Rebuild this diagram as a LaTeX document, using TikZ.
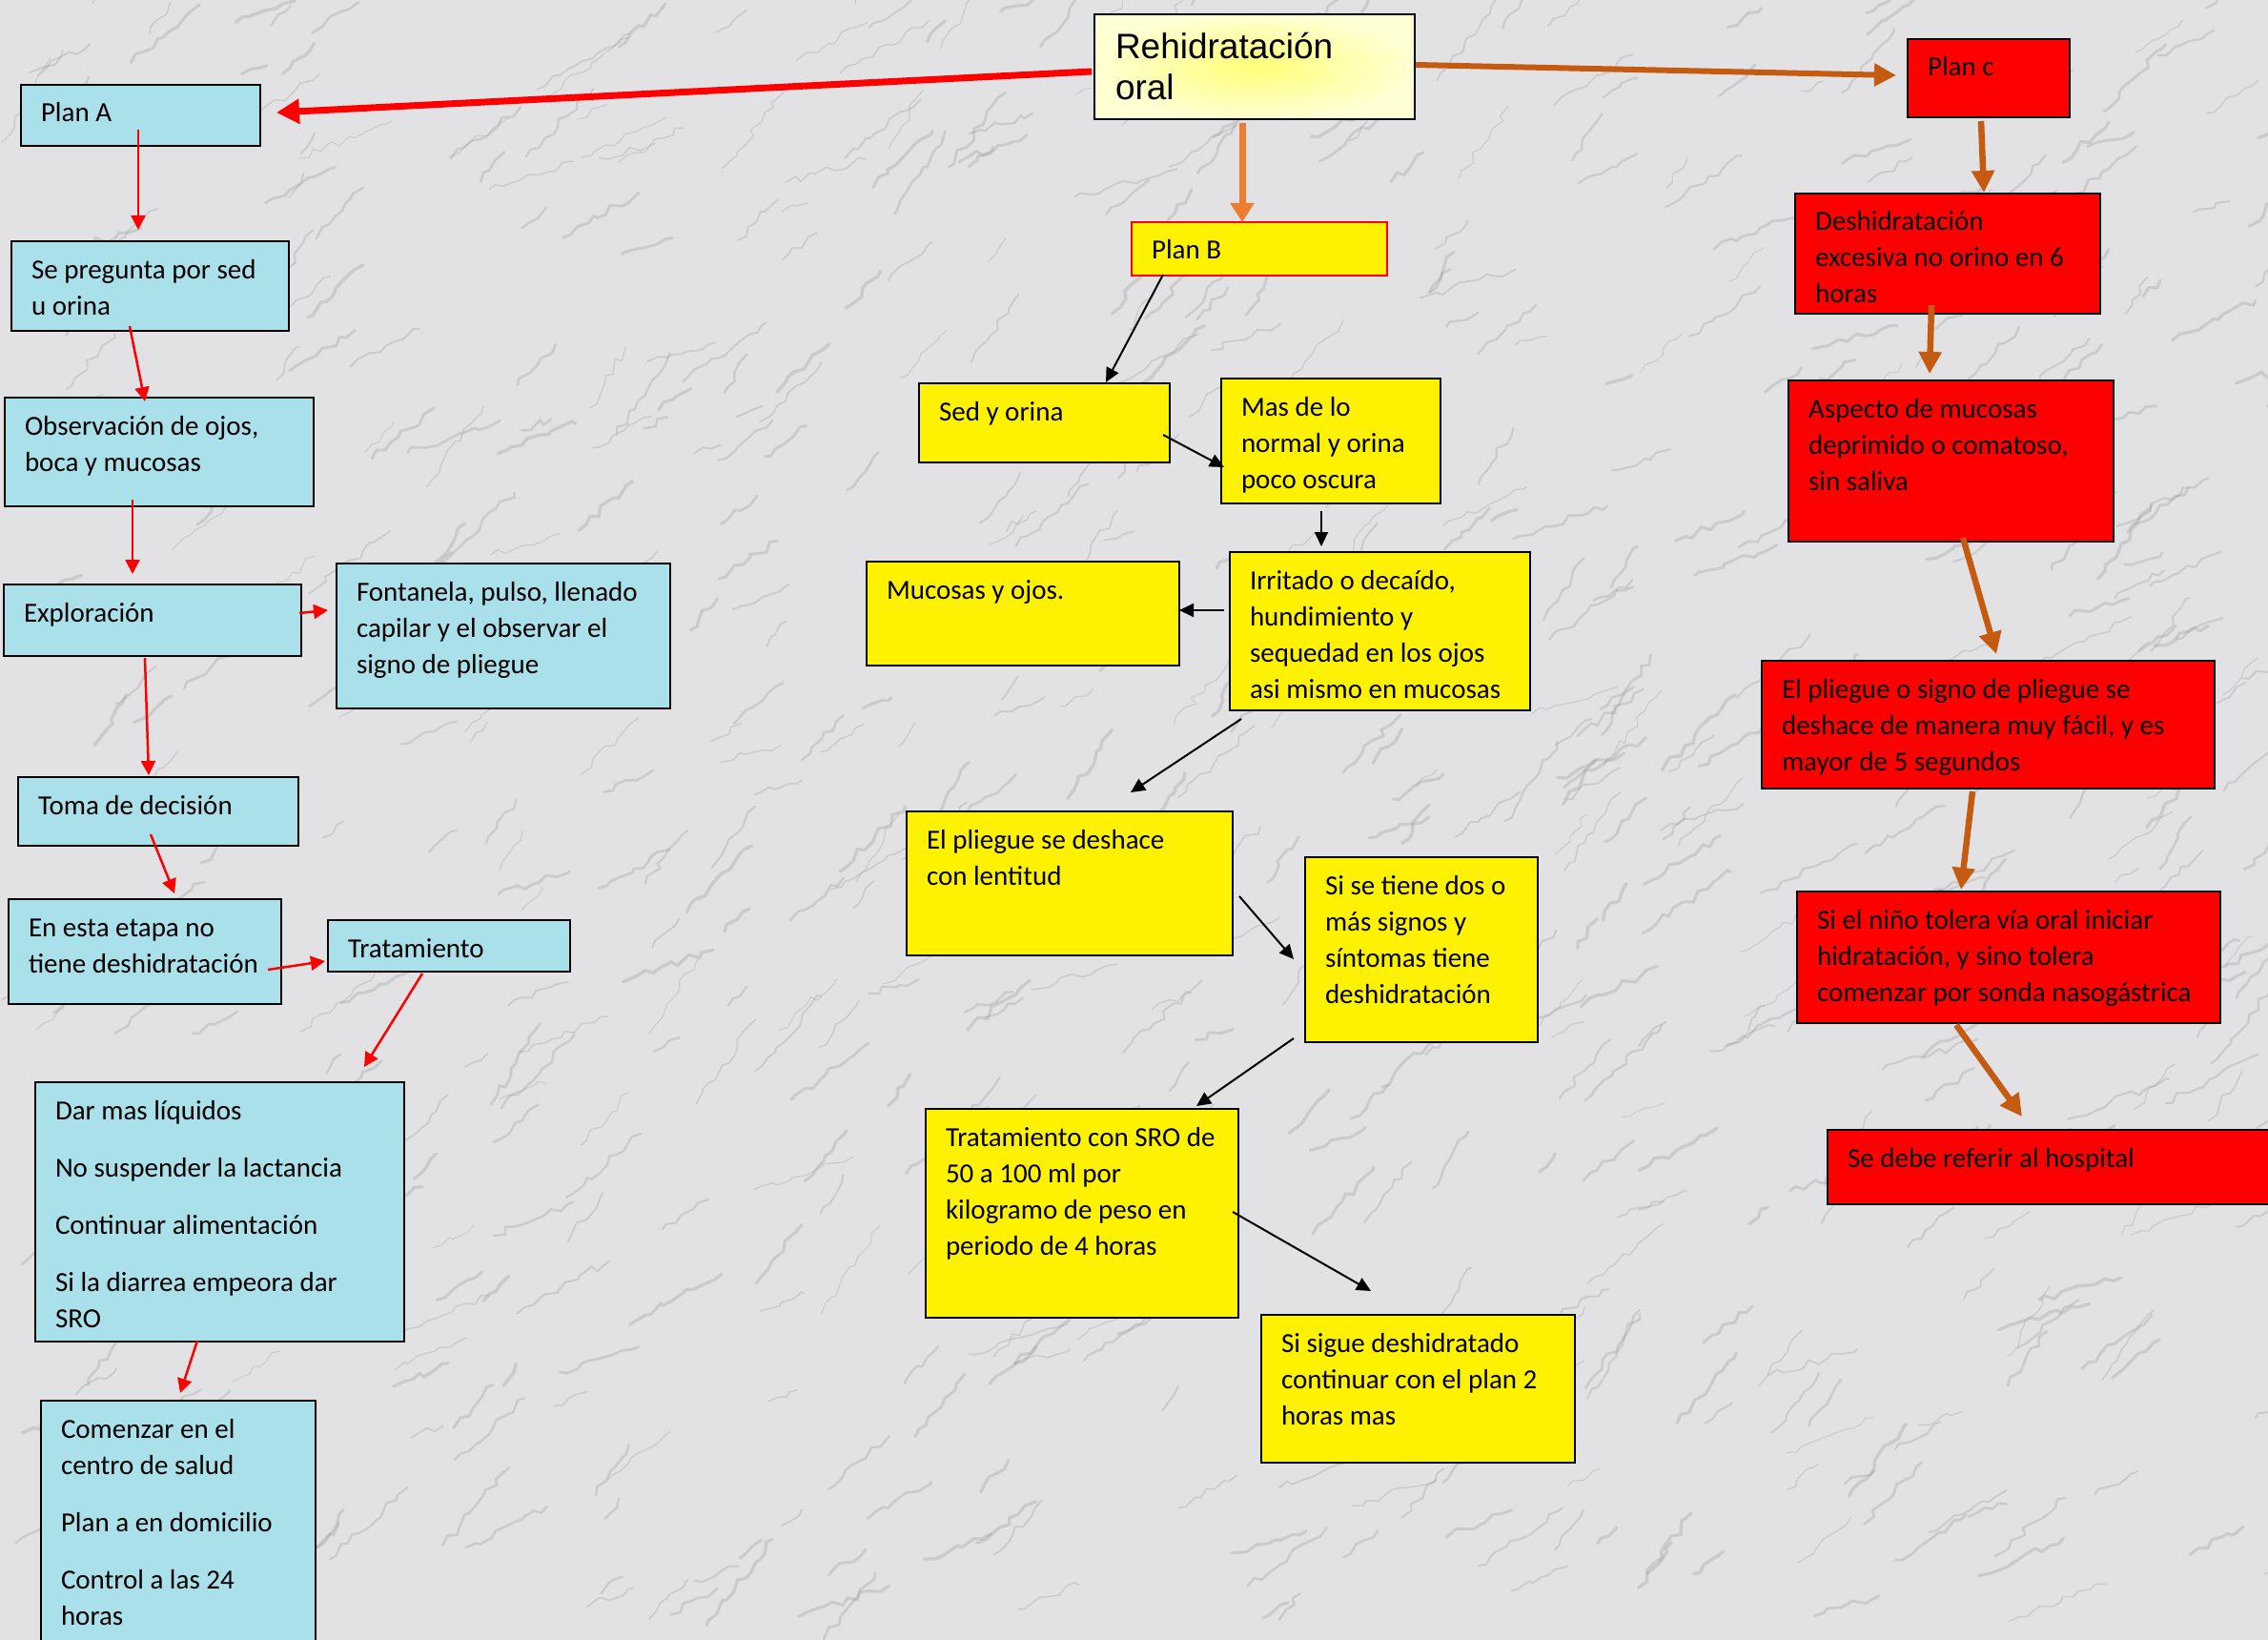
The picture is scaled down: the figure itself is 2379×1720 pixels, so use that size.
\documentclass[tikz,border=0pt]{standalone}
\usepackage{fontspec}
\setmainfont{Carlito}
\newfontfamily\arialf{Liberation Sans}
\usetikzlibrary{arrows.meta,calc,decorations.pathmorphing}
\definecolor{bgmarble}{RGB}{226,226,229}
\definecolor{veingray}{RGB}{150,150,156}
\definecolor{cyanfill}{RGB}{170,224,234}
\definecolor{brownln}{RGB}{197,90,17}
\definecolor{orangeln}{RGB}{237,125,49}
\definecolor{paleyel}{RGB}{255,255,212}
\definecolor{glowyel}{RGB}{255,255,120}
\newcommand{\mybox}[7]{\node[#6,anchor=north west,inner sep=0pt] (#1) at (#2,-#3)
  {\parbox[t][#5pt][t]{#4pt}{\fontsize{29}{38}\selectfont\leftskip=21pt\relax\rule{0pt}{39pt}#7}};}
\tikzset{
  cyanbox/.style={draw=black,line width=2pt,fill=cyanfill},
  yelbox/.style={draw=black,line width=2pt,fill=yellow},
  redbox/.style={draw=black,line width=2pt,fill=red},
  planbbox/.style={draw=red,line width=2pt,fill=yellow},
  mainbox/.style={draw=black,line width=2pt,inner color=glowyel,outer color=paleyel},
  redln/.style={red,line width=2.5pt,-{Triangle[length=15pt,width=15pt]}},
  blkln/.style={black,line width=2pt,-{Triangle[length=15pt,width=14pt]}},
  brnln/.style={brownln,line width=6.5pt,-{Triangle[length=23pt,width=23pt]}},
  redbig/.style={red,line width=7pt,-{Triangle[length=24pt,width=25pt]}},
  orgbig/.style={orangeln,line width=7pt,-{Triangle[length=20pt,width=24pt]}},
  brnbig/.style={brownln,line width=6pt,-{Triangle[length=23pt,width=23pt]}},
  vein/.style={veingray,opacity=0.3,line cap=round,
    decorate,decoration={random steps,segment length=9pt,amplitude=4pt}}
}
\begin{document}
\begin{tikzpicture}[x=1pt,y=1pt]
\fill[bgmarble] (0,0) rectangle (2379,-1720);
\useasboundingbox (0,0) rectangle (2379,-1720);

% marble texture
\pgfmathsetseed{7}
\foreach \i in {1,...,700}{
  \pgfmathsetmacro\xa{rnd*2379}
  \pgfmathsetmacro\ya{-rnd*1720}
  \pgfmathsetmacro\ang{15+rnd*45}
  \pgfmathsetmacro\len{25+rnd*90}
  \pgfmathsetmacro\lw{1+rnd*2.5}
  \draw[vein,line width=\lw pt] (\xa,\ya) -- ++(\ang:\len);
}

% main node
\node[mainbox,anchor=north west,inner sep=0pt] (rehid) at (1147,-14)
  {\parbox[t][110pt][t]{336pt}{\arialf\fontsize{37}{43}\selectfont\leftskip=22pt\relax\rule{0pt}{47pt}Rehidratación\\oral}};

% Plan A column
\mybox{planA}{21}{88}{251}{64}{cyanbox}{Plan A}
\mybox{sep}{11}{252}{291}{94}{cyanbox}{Se pregunta por sed\\u orina}
\mybox{obs}{4}{416}{324}{114}{cyanbox}{Observación de ojos,\\boca y mucosas}
\mybox{explor}{3}{612}{312}{75}{cyanbox}{Exploración}
\mybox{fontanela}{352}{590}{350}{152}{cyanbox}{Fontanela, pulso, llenado\\capilar y el observar el\\signo de pliegue}
\mybox{toma}{18}{814}{294}{72}{cyanbox}{Toma de decisión}
\mybox{enesta}{8}{942}{286}{110}{cyanbox}{En esta etapa no\\tiene deshidratación}
\mybox{tratam}{343}{964}{254}{54}{cyanbox}{Tratamiento}
\mybox{dar}{36}{1134}{387}{272}{cyanbox}{Dar mas líquidos\\[22pt]No suspender la lactancia\\[22pt]Continuar alimentación\\[22pt]Si la diarrea empeora dar\\SRO}
\mybox{comenzar}{42}{1468}{288}{256}{cyanbox}{Comenzar en el\\centro de salud\\[22pt]Plan a en domicilio\\[22pt]Control a las 24\\horas}

% Plan B column
\mybox{planB}{1186}{232}{268}{56}{planbbox}{Plan B}
\mybox{sed}{963}{401}{263}{83}{yelbox}{Sed y orina}
\mybox{mas}{1280}{396}{230}{131}{yelbox}{Mas de lo\\normal y orina\\poco oscura}
\mybox{mucosas}{908}{588}{328}{109}{yelbox}{Mucosas y ojos.}
\mybox{irritado}{1289}{578}{315}{166}{yelbox}{Irritado o decaído,\\hundimiento y\\sequedad en los ojos\\asi mismo en mucosas}
\mybox{elpliegue}{950}{850}{342}{151}{yelbox}{El pliegue se deshace\\con lentitud}
\mybox{sisetiene}{1368}{898}{244}{194}{yelbox}{Si se tiene dos o\\más signos y\\síntomas tiene\\deshidratación}
\mybox{tratsro}{970}{1162}{328}{219}{yelbox}{Tratamiento con SRO de\\50 a 100 ml por\\kilogramo de peso en\\periodo de 4 horas}
\mybox{sisigue}{1322}{1378}{329}{155}{yelbox}{Si sigue deshidratado\\continuar con el plan 2\\horas mas}

% Plan C column
\mybox{planC}{2000}{40}{170}{82}{redbox}{Plan c}
\mybox{deshid}{1882}{202}{320}{126}{redbox}{Deshidratación\\excesiva no orino en 6\\horas}
\mybox{aspecto}{1875}{398}{341}{169}{redbox}{Aspecto de mucosas\\deprimido o comatoso,\\sin saliva}
\mybox{pliegueC}{1847}{692}{475}{134}{redbox}{El pliegue o signo de pliegue se\\deshace de manera muy fácil, y es\\mayor de 5 segundos}
\mybox{sielnino}{1884}{934}{444}{138}{redbox}{Si el niño tolera vía oral iniciar\\hidratación, y sino tolera\\comenzar por sonda nasogástrica}
\mybox{sedebe}{1916}{1184}{470}{78}{redbox}{Se debe referir al hospital}

% main connectors
\draw[redbig] ($(rehid.north west)+(-2,-61)$) -- ($(planA.north east)+(16,-30)$);
\draw[brnbig] ($(rehid.north east)+(0,-54)$) -- ($(planC.north west)+(-11,-39)$);
\draw[orgbig] ($(rehid.south west)+(156,-3)$) -- ($(planB.north west)+(117,-1)$);

% Plan A connectors
\draw[redln] ($(planA.north west)+(124,-48)$) -- ($(sep.north west)+(134,11)$);
\draw[redln] ($(sep.north west)+(125,-90)$) -- ($(obs.north west)+(148,-5)$);
\draw[redln] ($(obs.north west)+(135,-108)$) -- ($(explor.north west)+(136,10)$);
\draw[redln] ($(explor.north west)+(311,-31)$) -- ($(fontanela.north west)+(-8,-50)$);
\draw[redln] ($(explor.north west)+(149,-78)$) -- ($(toma.north west)+(138,1)$);
\draw[redln] ($(toma.north west)+(140,-61)$) -- ($(enesta.north west)+(175,5)$);
\draw[redln] ($(enesta.north west)+(273,-75)$) -- ($(tratam.north west)+(-2,-44)$);
\draw[redln] ($(tratam.north west)+(100,-57)$) -- ($(dar.north west)+(346,15)$);
\draw[redln] ($(dar.north west)+(171,-272)$) -- ($(comenzar.north west)+(147,7)$);

% Plan B connectors
\draw[blkln] ($(planB.north west)+(34,-56)$) -- ($(sed.north west)+(197,0)$);
\draw[blkln] ($(sed.north west)+(257,-55)$) -- ($(mas.north west)+(4,-94)$);
\draw[blkln] ($(mas.north west)+(106,-140)$) -- ($(irritado.north west)+(97,5)$);
\draw[blkln] ($(irritado.north west)+(-5,-62)$) -- ($(mucosas.north west)+(329,-52)$);
\draw[blkln] ($(irritado.north west)+(13,-176)$) -- ($(elpliegue.north west)+(236,19)$);
\draw[blkln] ($(elpliegue.north west)+(350,-90)$) -- ($(sisetiene.north west)+(-11,-108)$);
\draw[blkln] ($(sisetiene.north west)+(-11,-191)$) -- ($(tratsro.north west)+(285,2)$);
\draw[blkln] ($(tratsro.north west)+(323,-109)$) -- ($(sisigue.north west)+(116,24)$);

% Plan C connectors
\draw[brnln] ($(planC.north west)+(78,-87)$) -- ($(deshid.north west)+(199,0)$);
\draw[brnln] ($(deshid.north west)+(144,-118)$) -- ($(aspecto.north west)+(149,6)$);
\draw[brnln] ($(aspecto.north west)+(184,-166)$) -- ($(pliegueC.north west)+(247,6)$);
\draw[brnln] ($(pliegueC.north west)+(222,-138)$) -- ($(sielnino.north west)+(173,1)$);
\draw[brnln] ($(sielnino.north west)+(168,-141)$) -- ($(sedebe.north west)+(205,13)$);
\end{tikzpicture}
\end{document}
